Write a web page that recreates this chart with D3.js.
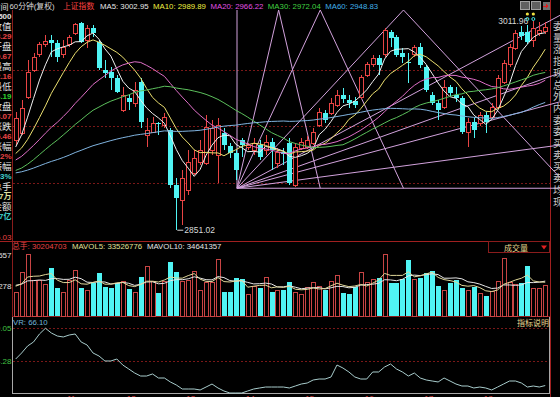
<!DOCTYPE html>
<html>
<head>
<meta charset="utf-8">
<script src="https://d3js.org/d3.v7.min.js"></script>
<style>
  html, body { margin: 0; padding: 0; background: #000; overflow: hidden; }
  svg { display: block; }
  text { font-family: "Liberation Sans", "Noto Sans CJK SC", sans-serif; }
</style>
</head>
<body>
<svg id="chart" width="560" height="397"></svg>
<script>
// 60-minute bars, Shanghai composite
const opens = [2920.3, 2925.7, 2953.4, 2974.2, 2985.8, 2993.5, 2997.3, 2995.0, 2985.8, 2993.5,
  3002.7, 3010.4, 2997.3, 3006.5, 2995.8, 2974.2, 2972.7, 2968.0, 2943.4, 2952.6,
  2948.8, 2965.0, 2924.2, 2926.5, 2933.4, 2931.9, 2928.0, 2885.7, 2874.1, 2881.8,
  2894.9, 2903.4, 2902.6, 2912.6, 2908.8, 2925.7, 2915.7, 2910.3, 2920.3, 2914.9,
  2912.6, 2916.5, 2912.6, 2918.8, 2902.6, 2911.1, 2918.0, 2885.7, 2914.1, 2914.9,
  2918.0, 2931.9, 2941.1, 2941.1, 2947.3, 2955.0, 2951.1, 2950.3, 2953.4, 2970.4,
  2978.1, 2983.4, 2985.8, 3003.5, 2999.6, 2987.3, 2980.4, 2985.8, 2991.9, 2976.5,
  2955.0, 2948.8, 2945.7, 2961.1, 2955.0, 2952.6, 2926.5, 2934.2, 2933.4, 2939.6,
  2938.0, 2945.7, 2965.0, 2978.1, 2991.1, 3003.5, 3003.5, 2997.3, 3002.7, 3003.5];
const highs = [2941.9, 2951.1, 2981.9, 2987.3, 2995.8, 3001.2, 3001.2, 2997.3, 2997.3, 3001.2,
  3010.4, 3011.2, 3008.9, 3008.9, 2997.3, 2981.9, 2976.5, 2970.4, 2961.1, 2955.0,
  2965.0, 2968.0, 2937.2, 2938.0, 2934.2, 2941.1, 2929.5, 2891.0, 2897.2, 2912.6,
  2912.6, 2920.3, 2939.6, 2935.7, 2937.2, 2929.5, 2918.0, 2912.6, 2921.8, 2918.0,
  2921.8, 2920.3, 2924.2, 2921.8, 2914.1, 2914.1, 2921.8, 2918.0, 2921.8, 2923.4,
  2929.5, 2944.9, 2943.4, 2952.6, 2958.8, 2960.3, 2955.0, 2953.4, 2970.4, 2980.4,
  2985.8, 2985.8, 3006.5, 3005.0, 3001.2, 2991.1, 2987.3, 2993.5, 2995.0, 2978.1,
  2957.3, 2951.1, 2966.5, 2962.7, 2961.1, 2954.2, 2937.2, 2937.2, 2941.9, 2941.9,
  2948.8, 2970.4, 2981.9, 2994.2, 3005.0, 3008.1, 3008.9, 3011.96, 3011.2, 3011.2];
const lows = [2916.5, 2924.2, 2951.9, 2972.7, 2984.2, 2991.9, 2984.2, 2980.4, 2983.4, 2991.9,
  3001.2, 2995.0, 2991.1, 2999.6, 2974.2, 2968.0, 2958.8, 2956.5, 2941.9, 2943.4,
  2945.7, 2929.5, 2914.9, 2925.7, 2924.2, 2929.5, 2883.3, 2851.02, 2854.9, 2878.0,
  2893.4, 2901.1, 2901.1, 2908.8, 2887.2, 2912.6, 2906.4, 2889.5, 2907.2, 2912.6,
  2908.8, 2904.9, 2908.8, 2897.2, 2898.7, 2901.1, 2885.7, 2884.1, 2912.6, 2913.4,
  2916.5, 2930.3, 2933.4, 2939.6, 2945.7, 2948.8, 2944.9, 2944.9, 2951.9, 2968.8,
  2976.5, 2970.4, 2984.2, 2991.9, 2984.2, 2979.6, 2964.2, 2984.2, 2975.7, 2957.3,
  2947.3, 2935.7, 2944.2, 2954.2, 2949.6, 2924.9, 2914.9, 2921.8, 2931.1, 2925.7,
  2936.5, 2944.2, 2963.4, 2976.5, 2989.6, 2997.3, 2994.2, 2991.9, 3000.4, 3001.9];
const closes = [2937.2, 2944.9, 2972.7, 2984.2, 2993.5, 2995.8, 2995.0, 2984.2, 2991.9, 2999.6,
  3008.9, 2995.8, 3006.5, 3002.7, 2975.7, 2971.9, 2968.0, 2957.3, 2955.0, 2949.6,
  2958.8, 2934.2, 2928.0, 2933.4, 2932.6, 2938.0, 2885.7, 2875.6, 2891.0, 2903.4,
  2906.4, 2912.6, 2930.3, 2929.5, 2931.9, 2916.5, 2910.3, 2897.2, 2916.5, 2916.5,
  2918.0, 2907.2, 2918.8, 2912.6, 2911.1, 2909.5, 2887.2, 2914.9, 2918.8, 2920.3,
  2926.5, 2941.9, 2935.7, 2948.8, 2955.0, 2951.9, 2948.8, 2947.3, 2968.8, 2978.1,
  2983.4, 2978.1, 3005.0, 2998.8, 2985.8, 2984.2, 2979.6, 2991.9, 2978.1, 2958.8,
  2948.8, 2943.4, 2961.1, 2956.5, 2952.6, 2926.5, 2934.2, 2928.0, 2939.6, 2934.2,
  2945.7, 2968.0, 2979.6, 2991.9, 3002.7, 3000.4, 2995.8, 3006.5, 3005.0, 3006.9];
// closes before the visible window (needed for the moving averages)
const prevCloses = [2893, 2896, 2890, 2888, 2892, 2897, 2899, 2895, 2891, 2889,
  2894, 2898, 2900, 2896, 2893, 2890, 2887, 2891, 2895, 2898,
  2896, 2892, 2889, 2893, 2897, 2895, 2891, 2888, 2890, 2893,
  2889, 2885, 2880, 2876, 2878, 2882, 2879, 2875, 2881, 2885,
  2888, 2892, 2897, 2902, 2899, 2904, 2908, 2903, 2906, 2901,
  2902, 2908, 2903, 2906, 2906, 2898, 2905, 2912, 2923];
// volume in thousand hands
const volumes = [23800, 42700, 60600, 35700, 35700, 31000, 47700, 27800, 23800, 35700,
  44700, 27800, 25800, 32800, 42700, 28800, 27800, 32800, 34700, 26800,
  23800, 38700, 48700, 34700, 22800, 33800, 53600, 43700, 33800, 35700,
  43700, 25800, 32800, 32800, 55600, 23800, 23800, 37700, 36700, 20900,
  28800, 27800, 38700, 23800, 25800, 25800, 33800, 23800, 20900, 27800,
  32800, 28800, 25800, 34700, 40700, 22800, 21800, 28800, 42700, 32800,
  36700, 37700, 61500, 32800, 32800, 36700, 55600, 36700, 37700, 42700,
  44700, 29800, 25800, 32800, 35700, 27800, 25800, 28800, 22800, 19900,
  24000, 33800, 56600, 33000, 31379, 32800, 49600, 27500, 27530, 30205];
const prevVolumes = [31000, 28500, 33000, 29500, 35000, 30500, 27000, 32000, 34500];
const vrValues = [118.2, 130.0, 143.7, 151.6, 167.3, 178.5, 169.2, 163.3, 161.4, 165.3,
  167.3, 151.6, 145.7, 130.0, 124.1, 114.3, 114.3, 118.2, 106.4, 98.6,
  90.7, 84.8, 84.8, 88.8, 80.9, 80.9, 73.1, 67.2, 59.3, 59.3,
  59.3, 57.4, 63.2, 69.1, 61.3, 55.4, 51.5, 51.5, 51.5, 55.4,
  59.3, 61.3, 63.2, 63.2, 63.2, 63.2, 61.3, 65.2, 69.1, 71.1,
  77.0, 78.9, 78.9, 82.9, 106.4, 100.5, 92.7, 82.9, 78.9, 78.9,
  92.7, 92.7, 102.5, 108.4, 98.6, 92.7, 84.8, 90.7, 80.9, 77.0,
  75.0, 73.1, 80.9, 75.0, 69.1, 65.2, 65.2, 61.3, 63.2, 61.3,
  57.4, 63.2, 69.1, 75.0, 75.0, 71.1, 63.2, 65.2, 63.2, 66.10];

const maPeriods = [5, 10, 20, 30, 60];
const maNames = ["MA5", "MA10", "MA20", "MA30", "MA60"];
const maLast = ["3002.95", "2989.89", "2966.22", "2972.04", "2948.83"];
const gridPrices = [2974.2, 2931.1, 2887.2];
const volTicks = [30278, 60557];
const vrTicks = [114.28, 179.05];
const signalIdx = [86, 87];
const gannOrigin = { bar: 37.2, price: 2883.3 };
const gannRatios = [4, 2, 1, 1 / 2, 1 / 3, 1 / 4, 1 / 8];
const gannUnit = 4.9; // points per bar for the 1x1 line
const infoNames = ["时间", "数值", "开盘", "最高", "最低", "收盘", "涨跌", "涨幅", "振幅", "总手", "金额"];
const infoValues = ["1500", "3003.29", "3010.67", "3012.16", "2996.19", "3003.07", "5.46", "0.12%", "0.53%", "3027万", "297.7亿"];
const sideNames = ["委", "量", "涨", "指", "现", "总", "外", "内", "委", "委", "买", "卖", "买", "卖", "均", "现"];
const dateTickIdx = [9, 19, 29, 39, 49, 59, 69, 79];
const dateTickLabels = ["11", "12", "13", "14", "15", "16", "17", "18"];

const N = closes.length;
const RED = "#e84444", CYAN = "#50f4f4", BORDER = "#8a1c1c";
const maColors = ["#f0f0f0", "#ece070", "#e070c8", "#5cc05c", "#80b4e0"];
const maTextColors = ["#e8e8e8", "#f0f040", "#e050e0", "#40d040", "#40b0e8"];

const svg = d3.select("#chart");
svg.append("rect").attr("width", 560).attr("height", 397).attr("fill", "#000");

const defs = svg.append("defs");
defs.append("clipPath").attr("id", "clipMain").append("rect")
  .attr("x", 13).attr("y", 10).attr("width", 537).attr("height", 230);
defs.append("clipPath").attr("id", "clipGann").append("rect")
  .attr("x", 236).attr("y", 9.5).attr("width", 324).attr("height", 180);

// scales
const xBand = d3.scaleBand().domain(d3.range(N)).range([12.7, 548.2]);
const xc = i => xBand(i) + xBand.bandwidth() / 2;
const xLin = d3.scaleLinear().domain([0, N - 1]).range([xc(0), xc(N - 1)]);
const yP = d3.scaleLinear().domain([2845.03, 3020.4]).range([238, 10]);
const yV = d3.scaleLinear().domain([0, 60557]).range([316, 255]);
const yR = d3.scaleLinear().domain([49.51, 179.05]).range([394, 328]);
const px = v => Math.round(v) + 0.5;

function movingAvg(all, off, n) {
  return d3.range(N).map(i => d3.mean(all.slice(off + i - n + 1, off + i + 1)));
}
const allCloses = prevCloses.concat(closes);
const maSeries = maPeriods.map(n => movingAvg(allCloses, prevCloses.length, n));
const allVols = prevVolumes.concat(volumes);
const mavol5 = movingAvg(allVols, prevVolumes.length, 5);
const mavol10 = movingAvg(allVols, prevVolumes.length, 10);

const bars = d3.range(N).map(i => ({ i, o: opens[i], h: highs[i], l: lows[i], c: closes[i], v: volumes[i], up: closes[i] >= opens[i] }));

// frames and separators
const frame = svg.append("g").attr("shape-rendering", "crispEdges");
frame.append("line").attr("x1", 12.5).attr("x2", 12.5).attr("y1", 10).attr("y2", 316).attr("stroke", BORDER);
frame.append("line").attr("x1", 550.5).attr("x2", 550.5).attr("y1", 0).attr("y2", 397).attr("stroke", "#a02020");
frame.append("line").attr("x1", 0).attr("x2", 550).attr("y1", 241.5).attr("y2", 241.5).attr("stroke", "#a02020");
frame.append("line").attr("x1", 12).attr("x2", 550).attr("y1", 316.5).attr("y2", 316.5).attr("stroke", BORDER);
frame.append("path").attr("d", "M12.5,317V393.5H549.5V317").attr("fill", "none").attr("stroke", "#a8a8a8");

// dashed grid
frame.selectAll("line.gp").data(gridPrices).join("line").attr("class", "gp")
  .attr("x1", 13).attr("x2", 550).attr("y1", d => px(yP(d))).attr("y2", d => px(yP(d)))
  .attr("stroke", "#7a1818").attr("stroke-dasharray", "2,2");
frame.selectAll("line.gr").data(vrTicks).join("line").attr("class", "gr")
  .attr("x1", 13).attr("x2", 549).attr("y1", d => px(yR(d))).attr("y2", d => px(yR(d)))
  .attr("stroke", "#7a1818").attr("stroke-dasharray", "2,2");

// gann fan, reflected at the top edge
const topPrice = yP.domain()[1];
const gann = [];
const ob = gannOrigin.bar, op = gannOrigin.price;
gann.push([[ob, op], [ob, topPrice]]);
gann.push([[ob, op], [xLin.invert(560), op]]);
gannRatios.forEach(r => {
  const s = gannUnit * r;
  const bTop = ob + (topPrice - op) / s;
  gann.push([[ob, op], [bTop, topPrice]]);
  if (xLin(bTop) < 560) gann.push([[bTop, topPrice], [bTop + (topPrice - op) / s, op]]);
});
svg.append("g").attr("clip-path", "url(#clipGann)")
  .selectAll("line").data(gann).join("line")
  .attr("x1", d => xLin(d[0][0])).attr("y1", d => yP(d[0][1]))
  .attr("x2", d => xLin(d[1][0])).attr("y2", d => yP(d[1][1]))
  .attr("stroke", "#d2a2dc").attr("stroke-width", 1);

// candles
const gC = svg.append("g").attr("clip-path", "url(#clipMain)").attr("shape-rendering", "crispEdges");
gC.selectAll("line.wick").data(bars).join("line").attr("class", "wick")
  .attr("x1", d => px(xc(d.i))).attr("x2", d => px(xc(d.i)))
  .attr("y1", d => yP(d.h)).attr("y2", d => yP(d.l))
  .attr("stroke", d => d.up ? RED : CYAN);
gC.selectAll("rect.body").data(bars).join("rect").attr("class", "body")
  .attr("x", d => d.up ? Math.round(xc(d.i)) - 1.5 : Math.round(xc(d.i)) - 2)
  .attr("width", d => d.up ? 4 : 5)
  .attr("y", d => yP(Math.max(d.o, d.c)))
  .attr("height", d => Math.max(1, Math.abs(yP(d.o) - yP(d.c))))
  .attr("fill", d => d.up ? "#000" : CYAN)
  .attr("stroke", d => d.up ? RED : "none");

// moving averages
const maLine = d3.line().x((d, i) => xc(i)).y(d => yP(d));
svg.append("g").attr("clip-path", "url(#clipMain)")
  .selectAll("path").data(maSeries).join("path")
  .attr("d", maLine).attr("fill", "none")
  .attr("stroke", (d, k) => maColors[k]).attr("stroke-width", 1);

// extreme labels
const lowIdx = d3.minIndex(lows), highIdx = d3.maxIndex(highs);
svg.append("line").attr("x1", xc(lowIdx) + 1).attr("x2", xc(lowIdx) + 7)
  .attr("y1", yP(lows[lowIdx])).attr("y2", yP(lows[lowIdx])).attr("stroke", "#d8d8d8");
svg.append("text").attr("x", xc(lowIdx) + 8).attr("y", yP(lows[lowIdx]) + 3)
  .attr("font-size", 8.5).attr("fill", "#d8d8d8").text(d3.format(".2f")(lows[lowIdx]));
svg.append("text").attr("x", xc(highIdx) - 5).attr("y", yP(highs[highIdx]) + 3)
  .attr("text-anchor", "end").attr("font-size", 8.5).attr("fill", "#d8d8d8").text(d3.format(".2f")(highs[highIdx]));
svg.selectAll("circle.sy").data(signalIdx).join("circle").attr("class", "sy")
  .attr("cx", d => xc(d)).attr("cy", 14).attr("r", 1.6).attr("fill", "#f0e040");
svg.selectAll("circle.sc").data(signalIdx).join("circle").attr("class", "sc")
  .attr("cx", d => xc(d)).attr("cy", 19).attr("r", 1.5).attr("fill", "none").attr("stroke", "#40e8e8");

// volume
const gV = svg.append("g").attr("shape-rendering", "crispEdges");
gV.selectAll("rect").data(bars).join("rect")
  .attr("x", d => d.up ? Math.round(xc(d.i)) - 1.5 : Math.round(xc(d.i)) - 2)
  .attr("width", d => d.up ? 4 : 5)
  .attr("y", d => yV(d.v))
  .attr("height", d => yV(0) - yV(d.v))
  .attr("fill", d => d.up ? "none" : CYAN)
  .attr("stroke", d => d.up ? "#c84444" : "none");
const volLine = d3.line().x((d, i) => xc(i)).y(d => yV(d));
svg.append("path").attr("d", volLine(mavol10)).attr("fill", "none").attr("stroke", "#e6e6e6");
svg.append("path").attr("d", volLine(mavol5)).attr("fill", "none").attr("stroke", "#e0d89a");

// VR
svg.append("path").attr("d", d3.line().x((d, i) => xc(i)).y(d => yR(d))(vrValues))
  .attr("fill", "none").attr("stroke", "#a8cccc").attr("stroke-width", 1);

// title row
const title = svg.append("g").attr("font-size", 7.8);
title.append("text").attr("x", 9.5).attr("y", 8.5).attr("fill", "#d8d8d8").text("60分钟(复权)");
title.append("text").attr("x", 63).attr("y", 8.5).attr("fill", "#ff4040").text("上证指数");
let tx = 100;
maNames.forEach((n, k) => {
  const t = title.append("text").attr("x", tx).attr("y", 8.5).attr("fill", maTextColors[k]).text(`${n}: ${maLast[k]}`);
  tx += t.node().getComputedTextLength() + 4.5;
});
// toolbar icons
const icons = svg.append("g").attr("shape-rendering", "crispEdges");
[520, 531].forEach(x => {
  icons.append("rect").attr("x", x + 0.5).attr("y", 1.5).attr("width", 9).attr("height", 8).attr("fill", "#606060").attr("stroke", "#a0a0a0");
});
icons.append("rect").attr("x", 542.5).attr("y", 1.5).attr("width", 7).attr("height", 8).attr("fill", "#707070");
icons.append("path").attr("d", "M543,5.5h3v-2l3,2.5l-3,2.5v-2h-3z").attr("fill", "#e02020");

// left info column
const info = svg.append("g");
infoNames.forEach((n, k) => {
  info.append("text").attr("x", k === 0 ? 8.5 : 11.5).attr("y", 10 + 20 * k).attr("text-anchor", "end")
    .attr("font-size", k === 0 ? 8 : 9.5).attr("fill", "#e0e0e0").text(n);
});
const infoColors = ["#e0e0e0", RED, RED, RED, "#30d030", RED, RED, RED, "#40d0d0", "#e0e0a0", "#40d0d0"];
infoValues.forEach((v, k) => {
  info.append("text").attr("x", 11.5).attr("y", 18.5 + 20 * k).attr("text-anchor", "end")
    .attr("font-size", 8).attr("font-weight", "bold").attr("fill", infoColors[k]).text(v);
});
info.append("text").attr("x", 11.5).attr("y", 240).attr("text-anchor", "end")
  .attr("font-size", 8).attr("fill", RED).text(d3.format(".2f")(yP.domain()[0]));

// right side column
svg.append("g").selectAll("text").data(sideNames).join("text")
  .attr("x", 553).attr("y", (d, k) => 30 + 11.7 * k).attr("font-size", 10).attr("fill", "#c8c8c8").text(d => d);

// volume panel labels
svg.selectAll("text.vt").data(volTicks).join("text").attr("class", "vt")
  .attr("x", 11.5).attr("y", d => yV(d) + 3).attr("text-anchor", "end")
  .attr("font-size", 8).attr("fill", "#e0e0e0").text(d => d);
const vh = svg.append("g").attr("font-size", 7.8);
vh.append("text").attr("x", 12).attr("y", 249).attr("fill", RED).text("总手: 30204703");
vh.append("text").attr("x", 72).attr("y", 249).attr("fill", "#e0e09a").text("MAVOL5: 33526776");
vh.append("text").attr("x", 147).attr("y", 249).attr("fill", "#e6e6e6").text("MAVOL10: 34641357");
svg.append("rect").attr("x", 488.5).attr("y", 241.5).attr("width", 61).attr("height", 11)
  .attr("fill", "#000").attr("stroke", BORDER).attr("shape-rendering", "crispEdges");
svg.append("text").attr("x", 516).attr("y", 250.5).attr("text-anchor", "middle")
  .attr("font-size", 8).attr("fill", "#e8d890").text("成交量");
svg.append("path").attr("d", "M541,245.5h6l-3,4z").attr("fill", "#e02020");

// VR panel labels
svg.append("text").attr("x", 13).attr("y", 325).attr("font-size", 7.8).attr("fill", "#70b4d8").text("VR: 66.10");
svg.append("text").attr("x", 549).attr("y", 326).attr("text-anchor", "end").attr("font-size", 8).attr("fill", "#e8d890").text("指标说明");
svg.selectAll("text.rt").data(vrTicks).join("text").attr("class", "rt")
  .attr("x", 11.5).attr("y", d => yR(d) + 3).attr("text-anchor", "end")
  .attr("font-size", 8).attr("fill", "#40c040").text(d => d3.format(".2f")(d));

// date labels at the bottom (mostly cut off)
svg.selectAll("text.dt").data(dateTickIdx).join("text").attr("class", "dt")
  .attr("x", d => xc(d) - 2).attr("y", 400.5).attr("font-size", 8).attr("fill", RED)
  .text((d, k) => dateTickLabels[k]);
</script>
</body>
</html>
